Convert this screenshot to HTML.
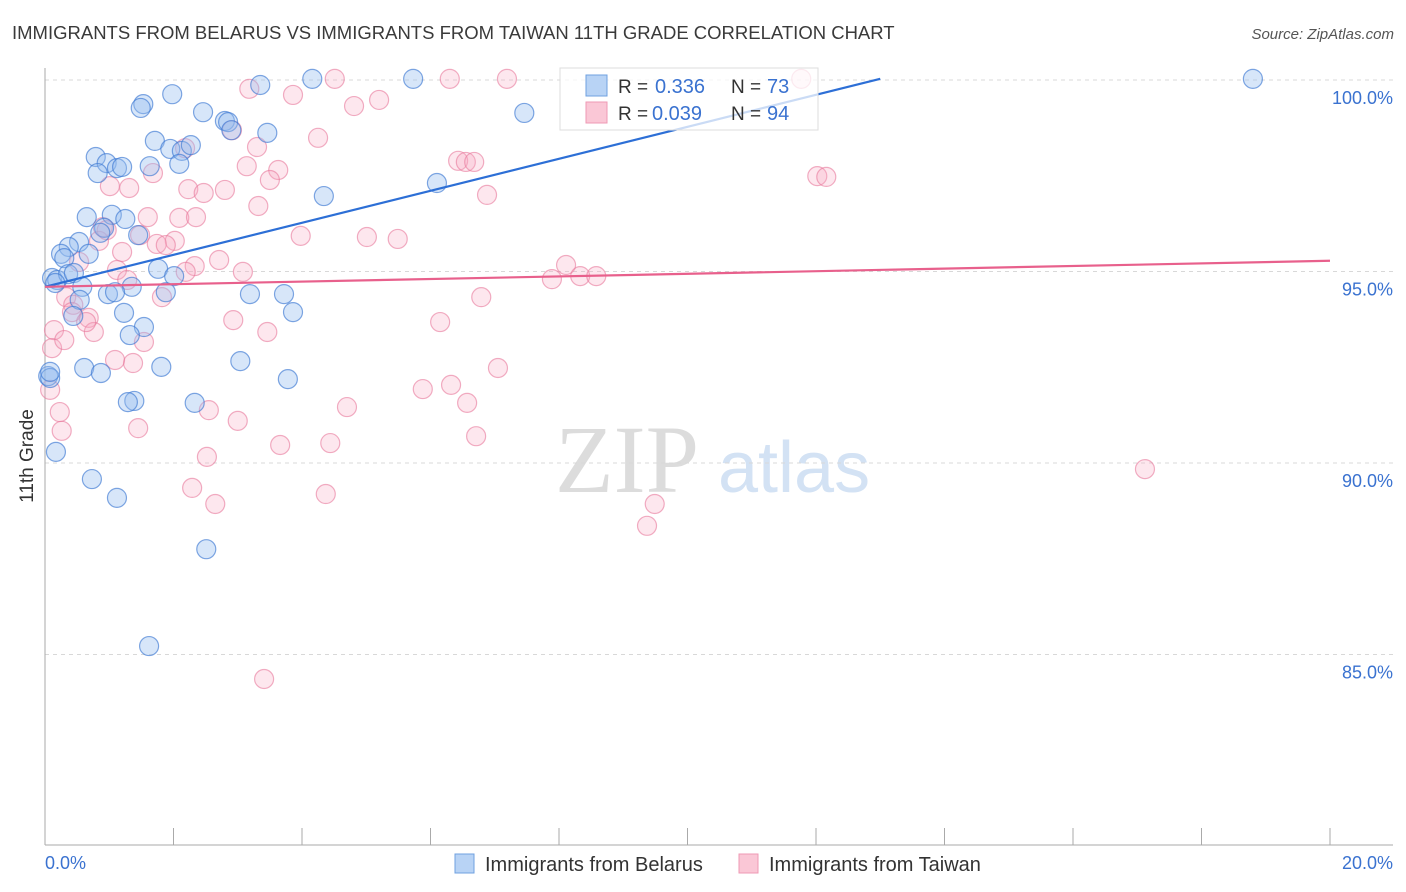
<!DOCTYPE html>
<html><head><meta charset="utf-8"><style>
body{margin:0;background:#fff;font-family:"Liberation Sans",sans-serif;}
#wrap{position:relative;width:1406px;height:892px;overflow:hidden;}
</style></head><body><div id="wrap">
<svg id="svg" width="1406" height="892" xmlns="http://www.w3.org/2000/svg">
<text x="12" y="39" font-size="18.5" fill="#3a3a3a">IMMIGRANTS FROM BELARUS VS IMMIGRANTS FROM TAIWAN 11TH GRADE CORRELATION CHART</text>
<text x="1394" y="39" font-size="15" fill="#555" font-style="italic" text-anchor="end">Source: ZipAtlas.com</text>
<text x="555" y="492" font-size="96" fill="#dcdcdc" font-family="Liberation Serif,serif">ZIP</text>
<text x="718" y="492" font-size="72" fill="#d3e2f4">atlas</text>
<g id="grid"></g><g id="axes"></g><g id="pts"></g><g id="lines"></g>
<text x="33" y="456" font-size="19" fill="#333" text-anchor="middle" transform="rotate(-90 33 456)">11th Grade</text>
<g>
<rect x="560" y="68" width="258" height="62" fill="rgba(255,255,255,0.75)" stroke="#ddd"/>
<rect x="586" y="75" width="21" height="21" fill="#b8d3f5" stroke="#6fa0e0"/>
<rect x="586" y="102" width="21" height="21" fill="#fac7d6" stroke="#ef9ab4"/>
<text x="618" y="93" font-size="19" fill="#333">R =</text><text x="655" y="93" font-size="20" fill="#3a72d0">0.336</text>
<text x="731" y="93" font-size="19" fill="#333">N =</text><text x="767" y="93" font-size="20" fill="#3a72d0">73</text>
<text x="618" y="120" font-size="19" fill="#333">R =</text><text x="652" y="120" font-size="20" fill="#3a72d0">0.039</text>
<text x="731" y="120" font-size="19" fill="#333">N =</text><text x="767" y="120" font-size="20" fill="#3a72d0">94</text>
</g>
<g>
<rect x="455" y="854" width="19" height="19" fill="#b8d3f5" stroke="#6fa0e0"/>
<text x="485" y="871" font-size="20" fill="#333">Immigrants from Belarus</text>
<rect x="739" y="854" width="19" height="19" fill="#fac7d6" stroke="#ef9ab4"/>
<text x="769" y="871" font-size="20" fill="#333">Immigrants from Taiwan</text>
</g>
</svg></div>
<script>
const yTicks=[100,95,90,85];
const yTickLabels=["100.0%","95.0%","90.0%","85.0%"];
const xTickVals=[0,2,4,6,8,10,12,14,16,18,20];
const blueX=[18.80,5.73,4.16,3.35,7.46,1.53,1.49,1.98,2.46,2.80,2.85,2.90,3.46,1.71,1.95,2.13,2.27,2.09,1.63,0.79,0.96,1.12,1.20,0.82,4.34,6.10,0.65,1.04,1.25,0.92,0.86,1.45,0.53,0.37,0.25,0.68,0.30,0.11,0.19,0.36,0.45,0.16,0.58,1.76,2.01,1.35,1.88,0.98,1.09,0.54,3.19,3.72,3.86,0.44,1.23,1.54,1.32,3.04,1.81,0.61,0.87,0.05,0.08,3.78,1.39,1.29,2.33,0.17,0.73,1.12,2.51,1.62,0.08];
const blueY=[100.03,100.03,100.03,99.87,99.14,99.37,99.27,99.63,99.16,98.93,98.90,98.69,98.62,98.41,98.20,98.15,98.30,97.81,97.75,97.99,97.83,97.70,97.73,97.57,96.97,97.31,96.42,96.48,96.37,96.14,96.01,95.95,95.77,95.64,95.46,95.46,95.35,94.83,94.78,94.93,94.96,94.70,94.60,95.07,94.88,94.60,94.46,94.41,94.46,94.26,94.41,94.41,93.94,93.84,93.92,93.55,93.34,92.66,92.51,92.48,92.35,92.27,92.22,92.19,91.62,91.59,91.57,90.29,89.58,89.09,87.75,85.22,92.38];
const pinkX=[6.30,4.51,7.19,11.77,3.18,3.86,5.20,4.81,4.25,2.91,3.30,3.14,3.63,3.50,1.68,1.01,1.31,2.23,2.47,2.80,3.32,6.43,6.55,6.68,6.88,12.02,12.16,1.60,2.09,2.35,0.90,3.98,5.01,5.49,0.84,1.48,2.02,1.74,1.88,1.20,0.53,2.33,2.71,1.12,3.08,2.19,8.11,8.33,8.58,7.89,1.28,1.82,0.33,0.44,0.42,0.68,0.76,2.93,6.79,6.15,3.46,1.54,0.14,0.11,1.37,1.09,7.05,5.88,6.32,6.57,4.70,2.55,0.23,0.26,1.45,3.00,6.71,4.44,3.66,2.52,17.12,2.29,4.37,2.65,9.49,9.37,3.41,0.64,0.30,0.08,0.96,2.18];
const pinkY=[100.03,100.03,100.03,100.03,99.77,99.61,99.48,99.32,98.49,98.69,98.25,97.75,97.65,97.39,97.57,97.23,97.18,97.15,97.05,97.13,96.71,97.89,97.86,97.86,97.00,97.49,97.47,96.42,96.40,96.42,96.16,95.93,95.90,95.85,95.80,95.95,95.80,95.72,95.69,95.51,95.25,95.14,95.30,95.04,94.99,94.99,95.17,94.88,94.88,94.80,94.78,94.33,94.33,94.13,93.94,93.79,93.42,93.73,94.33,93.68,93.42,93.16,93.47,93.00,92.61,92.69,92.48,91.93,92.04,91.57,91.46,91.38,91.33,90.84,90.91,91.10,90.70,90.52,90.47,90.16,89.84,89.35,89.19,88.93,88.93,88.36,84.36,93.68,93.21,91.91,96.08,98.22];
const blueTrend=[[0,94.6],[13.0,100.03]];
const pinkTrend=[[0,94.6],[20,95.28]];
const NS='http://www.w3.org/2000/svg';
const X=v=>45+v*64.25;
const Y=v=>80+(100-v)*38.3;
function mk(t,a,p){const e=document.createElementNS(NS,t);for(const k in a)e.setAttribute(k,a[k]);document.getElementById(p).appendChild(e);return e;}
yTicks.forEach((t,i)=>{
 const l=mk('line',{x1:45,x2:1393,y1:Y(t),y2:Y(t),stroke:'#d8d8d8','stroke-dasharray':'4,4'},'grid');
 
 
 const tx=mk('text',{x:1393,y:Y(t)+24,'font-size':18,fill:'#3a72d0','text-anchor':'end'},'axes');
 tx.textContent=yTickLabels[i];
 
 
});
const ax=mk('line',{x1:45,x2:45,y1:68,y2:845,stroke:'#aaa'},'axes');


const bx=mk('line',{x1:45,x2:1393,y1:845,y2:845,stroke:'#aaa'},'axes');


xTickVals.forEach(v=>{const t=mk('line',{x1:X(v),x2:X(v),y1:828,y2:845,stroke:'#aaa'},'axes');
 
 });
const x0=mk('text',{x:45,y:869,'font-size':18,fill:'#3a72d0'},'axes');x0.textContent='0.0%';


const x1=mk('text',{x:1393,y:869,'font-size':18,fill:'#3a72d0','text-anchor':'end'},'axes');x1.textContent='20.0%';


pinkX.forEach((v,i)=>{const c=mk('circle',{cx:X(v),cy:Y(pinkY[i]),r:9.5,fill:'rgba(248,170,195,0.28)',stroke:'rgba(232,120,155,0.6)','stroke-width':1.2},'pts');
 
 });
blueX.forEach((v,i)=>{const c=mk('circle',{cx:X(v),cy:Y(blueY[i]),r:9.5,fill:'rgba(150,190,240,0.38)',stroke:'rgba(60,120,210,0.65)','stroke-width':1.2},'pts');
 
 });
const bl=mk('line',{x1:X(blueTrend[0][0]),y1:Y(blueTrend[0][1]),x2:X(blueTrend[1][0]),y2:Y(blueTrend[1][1]),stroke:'#2d6fd6','stroke-width':2.2},'lines');


const pl=mk('line',{x1:X(pinkTrend[0][0]),y1:Y(pinkTrend[0][1]),x2:X(pinkTrend[1][0]),y2:Y(pinkTrend[1][1]),stroke:'#e8608c','stroke-width':2.2},'lines');


</script></body></html>
